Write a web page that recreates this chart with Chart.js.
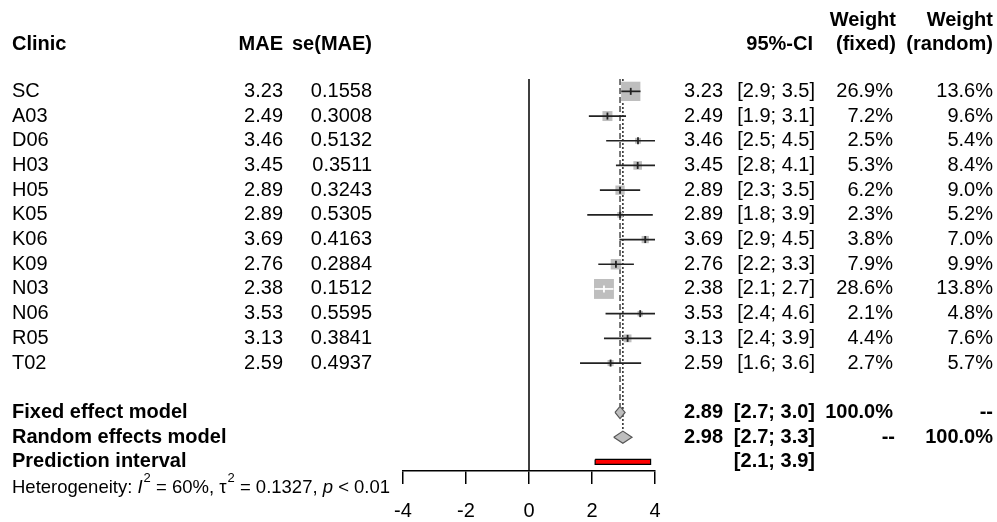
<!DOCTYPE html>
<html>
<head>
<meta charset="utf-8">
<script src="https://cdn.jsdelivr.net/npm/chart.js@4.4.1/dist/chart.umd.min.js"></script>
<style>
  body { margin: 0; background: #fff; }
  canvas { display: block; }
</style>
</head>
<body>
<canvas id="forest" width="997" height="522"></canvas>
<script>
// study data
var clinics = ["SC", "A03", "D06", "H03", "H05", "K05", "K06", "K09", "N03", "N06", "R05", "T02"];
var mae = [3.23, 2.49, 3.46, 3.45, 2.89, 2.89, 3.69, 2.76, 2.38, 3.53, 3.13, 2.59];
var seMae = ["0.1558", "0.3008", "0.5132", "0.3511", "0.3243", "0.5305", "0.4163", "0.2884", "0.1512", "0.5595", "0.3841", "0.4937"];
var ciLow = [2.93, 1.90, 2.45, 2.76, 2.25, 1.85, 2.87, 2.20, 2.08, 2.43, 2.38, 1.62];
var ciHigh = [3.54, 3.08, 4.47, 4.14, 3.53, 3.93, 4.51, 3.33, 2.68, 4.63, 3.88, 3.56];
var ciText = ["[2.9; 3.5]", "[1.9; 3.1]", "[2.5; 4.5]", "[2.8; 4.1]", "[2.3; 3.5]", "[1.8; 3.9]",
              "[2.9; 4.5]", "[2.2; 3.3]", "[2.1; 2.7]", "[2.4; 4.6]", "[2.4; 3.9]", "[1.6; 3.6]"];
var wFixed = [26.9, 7.2, 2.5, 5.3, 6.2, 2.3, 3.8, 7.9, 28.6, 2.1, 4.4, 2.7];
var wRandom = [13.6, 9.6, 5.4, 8.4, 9.0, 5.2, 7.0, 9.9, 13.8, 4.8, 7.6, 5.7];

// pooled results
var fixedEst = 2.89, fixedLow = 2.73, fixedHigh = 3.05;
var randomEst = 2.98, randomLow = 2.69, randomHigh = 3.27;
var predLow = 2.10, predHigh = 3.86;
var xTicks = [-4, -2, 0, 2, 4];

var FONT = "'Liberation Sans', Arial, sans-serif";
var rowFixed = 14, rowRandom = 15, rowPred = 16;
var yTop = 0.5, yBottom = 16.37;
var pxPerUnit = 251.7 / 8;   // x scale width / range, used for square-vs-CI test
var rows = clinics.map(function(c, i){ return i + 1; });

function squareSide(w){ return 3.72 * Math.sqrt(w); }

var datasets = [];

// reference lines
datasets.push({ data: [{x:0, y:yTop}, {x:0, y:yBottom}], showLine:true, pointRadius:0,
  borderColor:'#000', borderWidth:1.5, order:5 });
datasets.push({ data: [{x:fixedEst, y:yTop}, {x:fixedEst, y:rowFixed - 0.25}], showLine:true, pointRadius:0,
  borderColor:'#555', borderWidth:1.6, borderDash:[6,3], order:5 });
datasets.push({ data: [{x:randomEst, y:yTop}, {x:randomEst, y:rowRandom - 0.25}], showLine:true, pointRadius:0,
  borderColor:'#333', borderWidth:1.6, borderDash:[2,2], order:5 });

// squares (area ~ fixed weight)
datasets.push({
  data: mae.map(function(m, i){ return {x:m, y:rows[i]}; }),
  pointStyle:'rect',
  pointRadius: wFixed.map(function(w){ return squareSide(w) / (2 * Math.SQRT1_2); }),
  pointBackgroundColor:'#bebebe', pointBorderWidth:0, pointBorderColor:'#bebebe', order:4
});

// CI lines and estimate ticks, white when the CI sits inside its square
var lineCol = mae.map(function(m, i){
  var ciPx = (ciHigh[i] - ciLow[i]) * pxPerUnit;
  return ciPx < squareSide(wFixed[i]) - 1 ? '#fff' : '#222';
});
clinics.forEach(function(c, i){
  datasets.push({ data: [{x:ciLow[i], y:rows[i]}, {x:ciHigh[i], y:rows[i]}], showLine:true, pointRadius:0,
    borderColor:lineCol[i], borderWidth:1.7, order:2 });
});
datasets.push({
  data: mae.map(function(m, i){ return {x:m, y:rows[i]}; }),
  pointStyle:'line', pointRotation:90, pointRadius:3.5,
  pointBorderColor:lineCol, pointBorderWidth:1.8, order:1
});

// diamonds
function diamond(est, lo, hi, r){
  var h = 0.245;
  return [{x:lo, y:r}, {x:est, y:r - h}, {x:hi, y:r}, {x:est, y:r + h}, {x:lo, y:r}];
}
datasets.push({ data: diamond(fixedEst, fixedLow, fixedHigh, rowFixed), showLine:true, pointRadius:0,
  fill:'shape', backgroundColor:'#bebebe', borderColor:'#555', borderWidth:1.2, tension:0, order:3 });
datasets.push({ data: diamond(randomEst, randomLow, randomHigh, rowRandom), showLine:true, pointRadius:0,
  fill:'shape', backgroundColor:'#bebebe', borderColor:'#555', borderWidth:1.2, tension:0, order:3 });

// prediction interval bar
var ph = 0.1;
datasets.push({ data: [{x:predLow, y:rowPred - ph}, {x:predHigh, y:rowPred - ph}, {x:predHigh, y:rowPred + ph},
    {x:predLow, y:rowPred + ph}, {x:predLow, y:rowPred - ph}],
  showLine:true, pointRadius:0, fill:'shape', backgroundColor:'#ff0000', borderColor:'#000', borderWidth:1.2, order:3 });

// table texts
var tablePlugin = {
  id: 'table',
  afterDraw: function(chart){
    var c = chart.ctx;
    var ys = chart.scales.y;
    function txt(s, x, row, align, bold){
      c.font = (bold ? 'bold ' : '') + '20px ' + FONT;
      c.textAlign = align;
      c.fillText(s, x, ys.getPixelForValue(row));
    }
    c.save();
    c.fillStyle = '#000';
    c.textBaseline = 'middle';

    var h1 = -0.9, h0 = -1.86;
    txt('Clinic', 12, h1, 'left', true);
    txt('MAE', 283, h1, 'right', true);
    txt('se(MAE)', 372, h1, 'right', true);
    txt('95%-CI', 813, h1, 'right', true);
    txt('Weight', 896, h0, 'right', true);
    txt('(fixed)', 896, h1, 'right', true);
    txt('Weight', 993, h0, 'right', true);
    txt('(random)', 993, h1, 'right', true);

    clinics.forEach(function(name, i){
      var r = rows[i];
      txt(name, 12, r, 'left');
      txt(mae[i].toFixed(2), 283, r, 'right');
      txt(seMae[i], 372, r, 'right');
      txt(mae[i].toFixed(2), 723, r, 'right');
      txt(ciText[i], 815, r, 'right');
      txt(wFixed[i].toFixed(1) + '%', 893, r, 'right');
      txt(wRandom[i].toFixed(1) + '%', 993, r, 'right');
    });

    txt('Fixed effect model', 12, rowFixed, 'left', true);
    txt(fixedEst.toFixed(2), 723, rowFixed, 'right', true);
    txt('[2.7; 3.0]', 815, rowFixed, 'right', true);
    txt('100.0%', 893, rowFixed, 'right', true);
    txt('--', 993, rowFixed, 'right', true);

    txt('Random effects model', 12, rowRandom, 'left', true);
    txt(randomEst.toFixed(2), 723, rowRandom, 'right', true);
    txt('[2.7; 3.3]', 815, rowRandom, 'right', true);
    txt('--', 895, rowRandom, 'right', true);
    txt('100.0%', 993, rowRandom, 'right', true);

    txt('Prediction interval', 12, rowPred, 'left', true);
    txt('[2.1; 3.9]', 815, rowPred, 'right', true);

    // heterogeneity line with italics and superscripts
    var y = ys.getPixelForValue(rowPred + 1.04);
    var x = 12;
    var parts = [
      ['Heterogeneity: ', ''], ['I', 'italic '], ['2', 'sup'], [' = 60%, \u03c4', ''], ['2', 'sup'],
      [' = 0.1327, ', ''], ['p', 'italic '], [' < 0.01', '']
    ];
    c.textAlign = 'left';
    parts.forEach(function(p){
      if (p[1] === 'sup') {
        c.font = '13px ' + FONT;
        c.fillText(p[0], x + 1, y - 9);
        x += c.measureText(p[0]).width + 1;
      } else {
        c.font = p[1] + '18.5px ' + FONT;
        c.fillText(p[0], x, y);
        x += c.measureText(p[0]).width;
      }
    });
    c.restore();
  }
};

new Chart(document.getElementById('forest').getContext('2d'), {
  type: 'scatter',
  data: { datasets: datasets },
  options: {
    responsive: false,
    animation: false,
    events: [],
    layout: { padding: { left: 403, right: 342, top: 79, bottom: 0 } },
    plugins: { legend: { display: false }, tooltip: { enabled: false } },
    elements: { line: { tension: 0 } },
    scales: {
      x: {
        type: 'linear', min: -4, max: 4,
        afterBuildTicks: function(s){ s.ticks = xTicks.map(function(v){ return {value:v}; }); },
        ticks: { font: { size: 20, family: FONT }, color: '#000', padding: 15 },
        grid: { drawOnChartArea: false, drawTicks: true, tickLength: 13, color: '#000', lineWidth: 1.5 },
        border: { display: true, color: '#000', width: 1.5 },
        afterFit: function(s){ s.height = 51; }
      },
      y: { type: 'linear', display: false, min: yTop, max: yBottom, reverse: true }
    }
  },
  plugins: [tablePlugin]
});
</script>
</body>
</html>
